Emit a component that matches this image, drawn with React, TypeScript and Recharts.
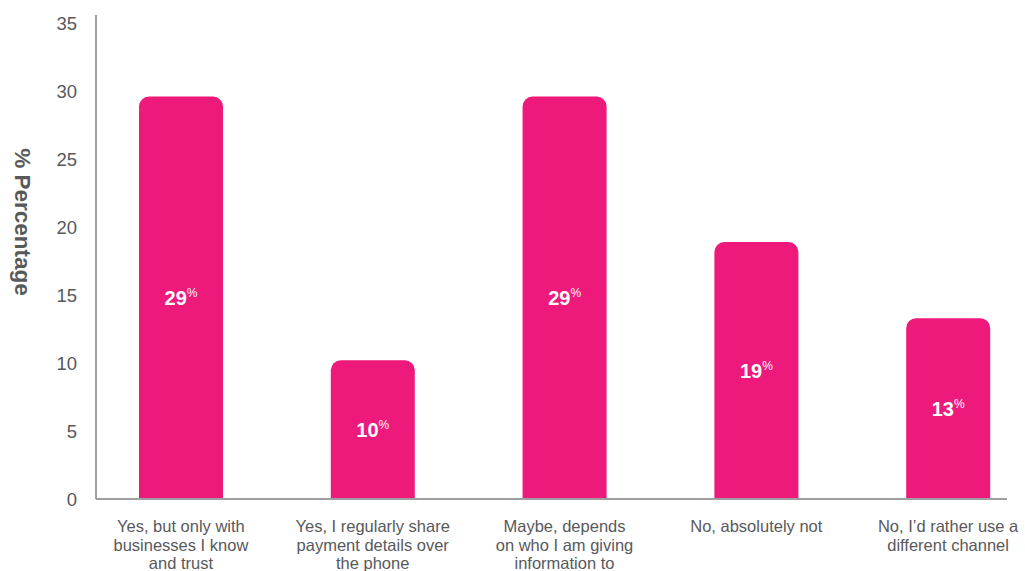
import { BarChart, Bar, XAxis, YAxis, LabelList, Label } from "recharts";

// survey answers along the x axis
const categories = [
  "Yes, but only with\nbusinesses I know\nand trust",
  "Yes, I regularly share\npayment details over\nthe phone",
  "Maybe, depends\non who I am giving\ninformation to",
  "No, absolutely not",
  "No, I’d rather use a\ndifferent channel",
];
// bar heights as drawn
const values = [29.6, 10.2, 29.6, 18.9, 13.3];
// numbers printed inside the bars
const pctLabels = ["29", "10", "29", "19", "13"];
const yTicks = [0, 5, 10, 15, 20, 25, 30, 35];

const PINK = "#ed197b";
const AXIS = "#9f9fa1";
const TEXT = "#58595b";
const FONT = "'Liberation Sans', Arial, Helvetica, sans-serif";

const data = categories.map((category, i) => ({
  category,
  value: values[i],
  label: pctLabels[i],
}));

function CategoryTick(props: any) {
  const { x, y, payload } = props;
  const lines = String(payload.value).split("\n");
  return (
    <text x={x} y={y} textAnchor="middle" fill={TEXT} fontSize={16.5} fontFamily={FONT}>
      {lines.map((line, i) => (
        <tspan key={i} x={x} dy={i === 0 ? 25 : 18.7}>
          {line}
        </tspan>
      ))}
    </text>
  );
}

function BarValue(props: any) {
  const { x, y, width, height, value } = props;
  const cx = x + width / 2;
  const cy = y + height / 2;
  return (
    <text x={cx} y={cy + 7} textAnchor="middle" fill="#ffffff" fontFamily={FONT}>
      <tspan fontSize={20} fontWeight="bold">{value}</tspan>
      <tspan fontSize={12} dy={-8}>%</tspan>
    </text>
  );
}

function AxisTitle(props: any) {
  const { viewBox } = props;
  const cx = viewBox.x + 22;
  const cy = viewBox.y + viewBox.height / 2 - 35;
  return (
    <text
      x={cx}
      y={cy}
      transform={`rotate(90, ${cx}, ${cy})`}
      textAnchor="middle"
      dominantBaseline="central"
      fill={TEXT}
      fontSize={22.5}
      fontWeight="bold"
      fontFamily={FONT}
    >
      % Percentage
    </text>
  );
}

export default function App() {
  return (
    <div style={{ position: "absolute", left: 0, top: 0, width: 1025, height: 571, overflow: "hidden", background: "#fff" }}>
      <BarChart
        width={1025}
        height={571}
        data={data}
        margin={{ top: 15, right: 18, bottom: 0, left: 0 }}
        barSize={84}
      >
        <XAxis
          dataKey="category"
          height={72}
          interval={0}
          padding={{ left: -11, right: -37 }}
          axisLine={{ stroke: AXIS, strokeWidth: 2 }}
          tickLine={false}
          tick={<CategoryTick />}
        />
        <YAxis
          width={96}
          domain={[0, 35.6]}
          ticks={yTicks}
          interval={0}
          axisLine={{ stroke: AXIS, strokeWidth: 2 }}
          tickLine={false}
          tickMargin={13}
          tick={{ fill: TEXT, fontSize: 18.5, fontFamily: FONT }}
        >
          <Label content={<AxisTitle />} />
        </YAxis>
        <Bar dataKey="value" fill={PINK} radius={[10, 10, 0, 0]} isAnimationActive={false}>
          <LabelList dataKey="label" content={<BarValue />} />
        </Bar>
      </BarChart>
    </div>
  );
}
